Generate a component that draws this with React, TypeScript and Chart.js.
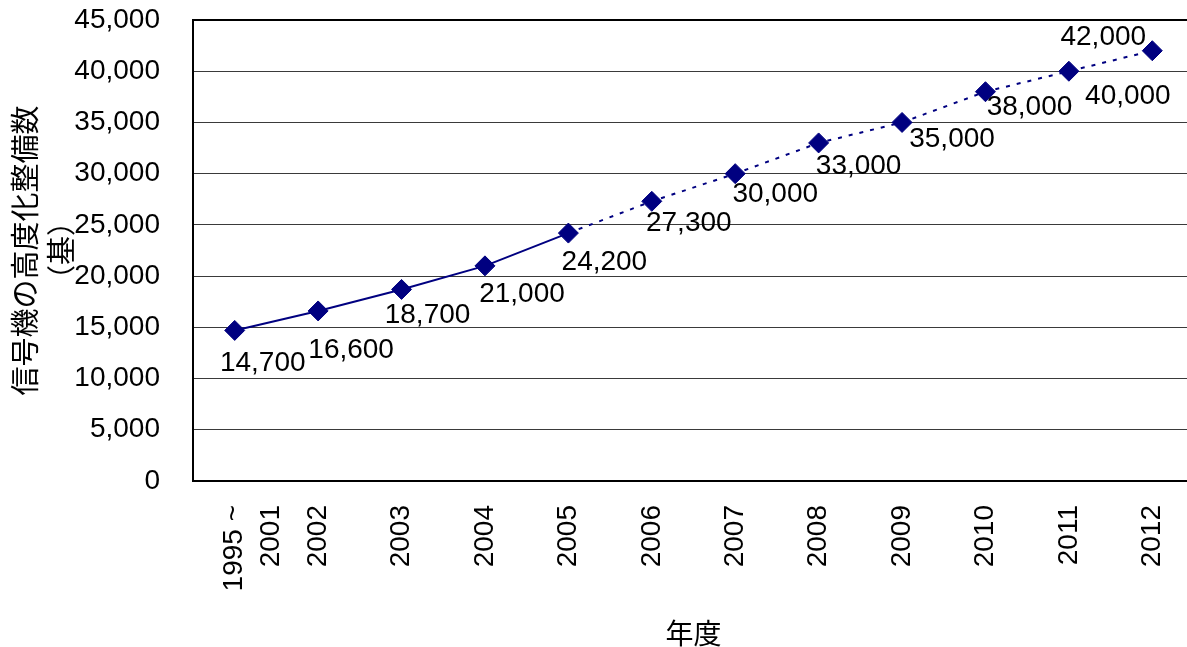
import React, { useEffect, useRef } from "react";
import { Chart, registerables } from "chart.js";

Chart.register(...registerables);

// ---- data ----
const categories: (string | string[])[] = [
  ["1995 ~", "2001"],
  "2002",
  "2003",
  "2004",
  "2005",
  "2006",
  "2007",
  "2008",
  "2009",
  "2010",
  "2011",
  "2012",
];
const values = [14700, 16600, 18700, 21000, 24200, 27300, 30000, 33000, 35000, 38000, 40000, 42000];
const yMin = 0;
const yMax = 45000;
const yStep = 5000;
const yTitle = ["信号機の高度化整備数", "（基）"];
const xTitle = "年度";
// index of last point of the solid (actual) segment; after it the line is dotted
const lastSolidIndex = 4;

// ---- styling ----
// label placement (dx, dy from each point centre), as in the reference
const labelNudge: [number, number][] = [
  [28, 33], [33, 39], [26, 26], [37, 28], [36, 29], [37, 22],
  [40, 21], [40, 23], [50, 17], [44, 16], [59, 25], [-49, -13],
];
const NAVY = "#000080";
const FONT = '"Liberation Sans", Arial, "Noto Sans CJK JP", sans-serif';
const CJK = '"Noto Sans CJK JP", "Liberation Sans", sans-serif';

const CANVAS_W = 1210;
const CANVAS_H = 647;

const valueLabelPlugin = {
  id: "valueLabels",
  afterDatasetsDraw(chart: any) {
    const meta = chart.getDatasetMeta(0);
    const ctx = chart.ctx;
    ctx.save();
    ctx.font = `28px ${FONT}`;
    ctx.fillStyle = "#000";
    ctx.textAlign = "center";
    ctx.textBaseline = "middle";
    meta.data.forEach((pt: any, i: number) => {
      const [dx, dy] = labelNudge[i] || [30, 25];
      ctx.fillText(values[i].toLocaleString("en-US"), pt.x + dx, pt.y + dy);
    });
    ctx.restore();
  },
};

export default function App() {
  const ref = useRef<HTMLCanvasElement | null>(null);

  useEffect(() => {
    if (!ref.current) return;
    const chart = new Chart(ref.current, {
      type: "line",
      data: {
        labels: categories as any,
        datasets: [
          {
            data: values,
            borderColor: NAVY,
            borderWidth: 2,
            backgroundColor: NAVY,
            pointStyle: "rectRot",
            pointRadius: 10,
            pointBorderWidth: 1,
            pointBorderColor: NAVY,
            pointBackgroundColor: NAVY,
            tension: 0,
            fill: false,
            segment: {
              borderDash: (c: any) => (c.p0DataIndex >= lastSolidIndex ? [4, 7] : []),
            },
          },
        ],
      },
      options: {
        responsive: false,
        animation: false,
        layout: { padding: { top: 20, right: CANVAS_W - 1194, left: 0, bottom: 0 } },
        plugins: {
          legend: { display: false },
          tooltip: { enabled: false },
        },
        scales: {
          x: {
            offset: true,
            grid: { display: false, offset: true },
            border: { display: true, color: "#000", width: 2 },
            ticks: {
              color: "#000",
              font: { family: FONT, size: 28, lineHeight: 1.3 },
              minRotation: 90,
              maxRotation: 90,
              autoSkip: false,
              padding: 16,
            },
            title: {
              display: true,
              text: xTitle,
              color: "#000",
              font: { family: CJK, size: 28, lineHeight: 1.0 },
              padding: { top: 0, bottom: 0 },
            },
            afterFit: (s: any) => {
              s.height = CANVAS_H - 481;
            },
          },
          y: {
            min: yMin,
            max: yMax,
            grid: {
              drawTicks: true,
              tickLength: 30,
              tickColor: "rgba(0,0,0,0)",
              color: (c: any) => (c.tick && c.tick.value === yMax ? "#000" : "#3a3a3a"),
              lineWidth: (c: any) => (c.tick && c.tick.value === yMax ? 2 : 1),
            },
            border: { display: true, color: "#000", width: 2 },
            ticks: {
              stepSize: yStep,
              color: "#000",
              font: { family: FONT, size: 28 },
              padding: 3,
              callback: (v: any) => Number(v).toLocaleString("en-US"),
            },
            title: {
              display: true,
              text: yTitle,
              color: "#000",
              font: { family: CJK, size: 29, lineHeight: 1.24 },
              padding: { top: 7, bottom: 0 },
            },
            afterFit: (s: any) => {
              s.width = 193;
            },
          },
        },
      },
      plugins: [valueLabelPlugin],
    });
    return () => chart.destroy();
  }, []);

  return (
    <div
      style={{
        position: "fixed",
        left: 0,
        top: 0,
        width: 1187,
        height: 647,
        overflow: "hidden",
        background: "#fff",
      }}
    >
      <canvas ref={ref} width={CANVAS_W} height={CANVAS_H} style={{ display: "block" }} />
    </div>
  );
}
